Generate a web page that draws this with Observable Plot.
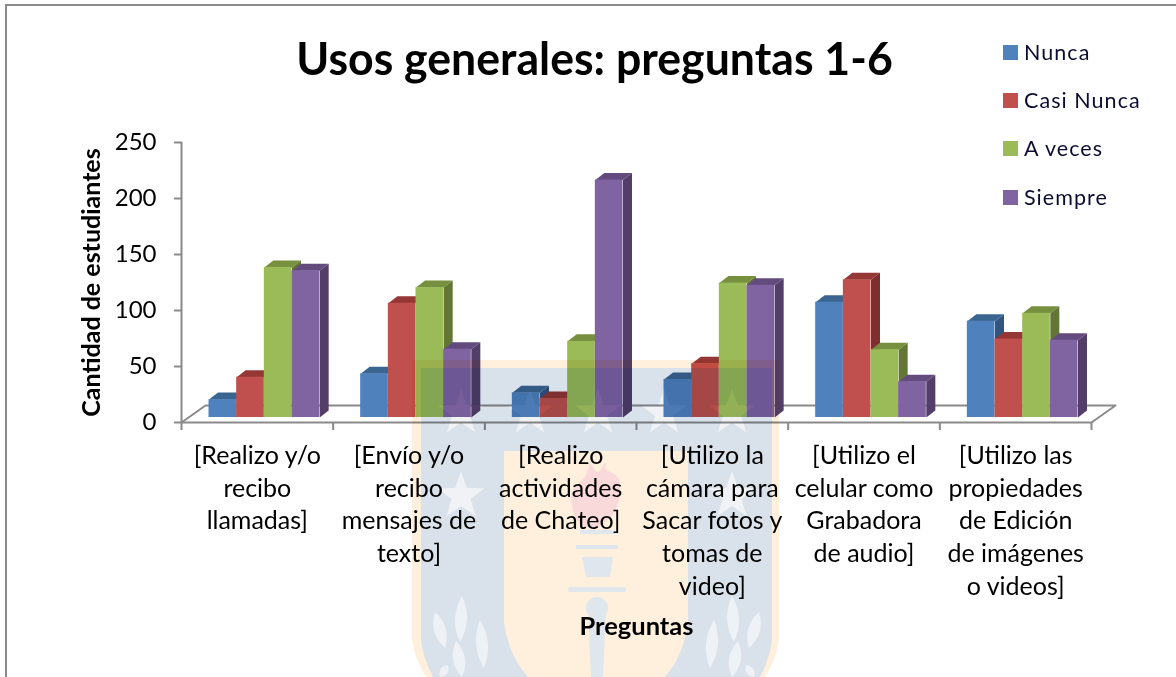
<!DOCTYPE html>
<html lang="es">
<head>
<meta charset="utf-8">
<script src="https://cdn.jsdelivr.net/npm/d3@7"></script>
<script src="https://cdn.jsdelivr.net/npm/@observablehq/plot@0.6"></script>
<style>
  html, body { margin: 0; padding: 0; background: #fff; width: 1176px; height: 677px; overflow: hidden; }
  #stage { position: relative; width: 1176px; height: 677px; overflow: hidden; font-family: Lato, sans-serif; color: #000; }
  #stage > svg.plot-root { position: absolute; left: 0; top: 0; }
  #frame { position: absolute; left: 5px; top: 4px; right: -5px; bottom: -5px; border-left: 2px solid #8a8a8a; border-top: 2px solid #8a8a8a; }
  #title { position: absolute; left: 298px; top: 29px; width: 592px; text-align: center; font-size: 46px; font-weight: 700; line-height: 58px; white-space: nowrap; display: flex; justify-content: center; }
  #title span { display: block; transform: scaleX(0.97); transform-origin: center; }
  .legend-item { position: absolute; left: 1003px; height: 20px; display: flex; align-items: center; font-size: 21.5px; letter-spacing: 1.05px; color: #0c0c30; white-space: nowrap; }
  .legend-item i { display: block; width: 15px; height: 15px; margin-right: 6px; flex: none; }
  #seal { position: absolute; left: 0; top: 0; mix-blend-mode: multiply; pointer-events: none; }
</style>
</head>
<body>
<div id="stage">
  <div id="frame"></div>
  <div id="title"><span>Usos generales: preguntas 1-6</span></div>
</div>
<script>
const preguntas = [
  "[Realizo y/o\nrecibo\nllamadas]",
  "[Envío y/o\nrecibo\nmensajes de\ntexto]",
  "[Realizo\nactividades\nde Chateo]",
  "[Utilizo la\ncámara para\nSacar fotos y\ntomas de\nvideo]",
  "[Utilizo el\ncelular como\nGrabadora\nde audio]",
  "[Utilizo las\npropiedades\nde Edición\nde imágenes\no videos]"
];
const respuestas = ["Nunca", "Casi Nunca", "A veces", "Siempre"];
const nunca     = [16, 39, 22, 34, 103, 86];
const casiNunca = [36, 102, 17, 48, 123, 70];
const aVeces    = [134, 116, 68, 120, 60.5, 93];
const siempre   = [131, 61, 212, 118, 32, 69];
const valores = [nunca, casiNunca, aVeces, siempre];
const frente  = ["#4f81bd", "#c0504d", "#9bbb59", "#8064a2"];
const arriba  = ["#3b6591", "#953735", "#769040", "#634b7f"];
const lado    = ["#32557f", "#7d2f2e", "#637635", "#523e69"];

const F = "Lato, sans-serif";
const GRIS = "#8a8a8a";
const anchoBarra = 0.1824, margenGrupo = (1 - 4 * anchoBarra) / 2;
const fondoX = 9 / 151.67, fondoY = 7 / 1.119;     // bar depth, in scale units
const pisoX = 24 / 151.67, pisoY = 15.2;           // floor depth, in scale units
const plano = {dx: 7, dy: -5};

const poly = (pts, fill) => Plot.line(pts, {x: "0", y: "1", fill, stroke: "none", curve: "linear-closed", ...plano});

const barras = preguntas.flatMap((_, c) => respuestas.flatMap((_, s) => {
  const v = valores[s][c];
  const x1 = c + margenGrupo + s * anchoBarra, x2 = x1 + anchoBarra;
  return [
    poly([[x2, 0], [x2 + fondoX, fondoY], [x2 + fondoX, v + fondoY], [x2, v]], lado[s]),
    poly([[x1, v], [x1 + fondoX, v + fondoY], [x2 + fondoX, v + fondoY], [x2, v]], arriba[s]),
    Plot.rectY([v], {x1: () => x1, x2: () => x2, y1: () => 0, y2: d => d, fill: frente[s], ...plano})
  ];
}));

const linea = (pts) => Plot.line(pts, {x: "0", y: "1", stroke: GRIS, strokeWidth: 2});

const chart = Plot.plot({
  width: 1176, height: 677,
  marginLeft: 181, marginRight: 85, marginTop: 142, marginBottom: 255,
  style: {background: "transparent", fontFamily: F, overflow: "visible"},
  x: {domain: [0, 6], axis: null},
  y: {domain: [0, 250], axis: null},
  marks: [
    linea([[0, 0], [pisoX, pisoY], [6 + pisoX, pisoY], [6, 0]]),
    ...barras,
    linea([[0, 0], [6, 0]]),
    linea([[0, 0], [0, 250]]),
    Plot.axisY({ticks: [0, 50, 100, 150, 200, 250], tickSize: 7, tickPadding: 18, stroke: GRIS, strokeWidth: 2, fill: "#000", fontSize: 24, fontFamily: F, label: null}),
    Plot.axisX({ticks: [0, 1, 2, 3, 4, 5, 6], tickSize: 8, stroke: GRIS, strokeWidth: 2, tickFormat: () => "", label: null}),
    Plot.text(preguntas, {
      x: (_, i) => i + 0.5, y: () => 0, text: d => d,
      lineAnchor: "top", lineHeight: 1.31, dy: 18, fontSize: 25, fontFamily: F, fill: "#000"
    }),
    Plot.text(["Cantidad de estudiantes"], {
      x: () => 0, y: () => 125, text: d => d, rotate: -90, dx: -90,
      fontSize: 25, fontWeight: 700, fontFamily: F, fill: "#000"
    }),
    Plot.text(["Preguntas"], {
      x: () => 3, y: () => 0, text: d => d, dy: 204,
      fontSize: 25.5, fontWeight: 700, fontFamily: F, fill: "#000"
    })
  ]
});

const stage = document.getElementById("stage");
stage.appendChild(chart);

[44, 92, 140, 189].forEach((top, i) => {
  const el = document.createElement("div");
  el.className = "legend-item";
  el.style.top = (top - 2) + "px";
  const sw = document.createElement("i");
  sw.style.background = frente[i];
  el.appendChild(sw);
  el.appendChild(document.createTextNode(respuestas[i]));
  stage.appendChild(el);
});

// faint university seal printed over the whole figure
const star = (cx, cy, r) => {
  const p = [];
  for (let k = 0; k < 10; k++) {
    const a = -Math.PI / 2 + k * Math.PI / 5, q = k % 2 ? r * 0.4 : r;
    p.push((cx + q * Math.cos(a)).toFixed(1) + "," + (cy + q * Math.sin(a)).toFixed(1));
  }
  return `<polygon points="${p.join(" ")}" fill="#f0f2f5"/>`;
};
// pointed laurel leaf from base (x,y) to tip (x+tx, y+ty), half width w
const leaf = (x, y, tx, ty, w) => {
  const mx = x + tx / 2, my = y + ty / 2, n = Math.hypot(tx, ty), ox = -ty / n * w, oy = tx / n * w;
  return `<path d="M${x} ${y}Q${mx + ox} ${my + oy} ${x + tx} ${y + ty}Q${mx - ox} ${my - oy} ${x} ${y}Z" fill="#eef1f5"/>`;
};
const hojas = [[460, 642, 2, -46, 12], [445, 648, -10, -36, 12], [484, 668, -4, -48, 12], [462, 677, -6, -36, 12], [440, 677, 8, -12, 8]];
const BL = "#d9e1ea", CR = "#fef0dc", TE = "#dfe6ee";
stage.insertAdjacentHTML("beforeend", `
<svg id="seal" width="1176" height="677" viewBox="0 0 1176 677">
  <path d="M412 360H779V640Q776 660 765 677H426Q415 660 412 640Z" fill="${CR}"/>
  <path d="M421 368H772V640Q770 658 760 677H433Q423 658 421 640Z" fill="${BL}"/>
  ${[461, 530, 598, 664, 732].map(x => star(x, 413, 24)).join("")}
  ${star(461, 496, 25)}${star(732, 496, 25)}
  <path d="M504 451H688V622Q684 655 665 677H528Q508 655 504 622Z" fill="${CR}"/>
  <path d="M572 505C568 480 585 490 590 462C600 480 598 470 606 462C602 478 622 466 620 490C620 515 600 530 590 527C578 526 574 518 572 505Z" fill="#fad9da"/>
  <rect x="580" y="530" width="36" height="4" fill="${TE}"/>
  <rect x="576" y="545" width="42" height="4" fill="${TE}"/>
  <path d="M582 557H613L610 577H586Z" fill="${TE}"/>
  <rect x="568" y="587" width="58" height="5" rx="2" fill="${TE}"/>
  <circle cx="597" cy="608" r="11" fill="${TE}"/>
  <path d="M588 610H606L603 677H591Z" fill="${TE}"/>
  ${hojas.map(h => leaf(...h)).join("")}
  ${hojas.map(([x, y, tx, ty, w]) => leaf(1194 - x, y, -tx, ty, w)).join("")}
</svg>`);
</script>
</body>
</html>
